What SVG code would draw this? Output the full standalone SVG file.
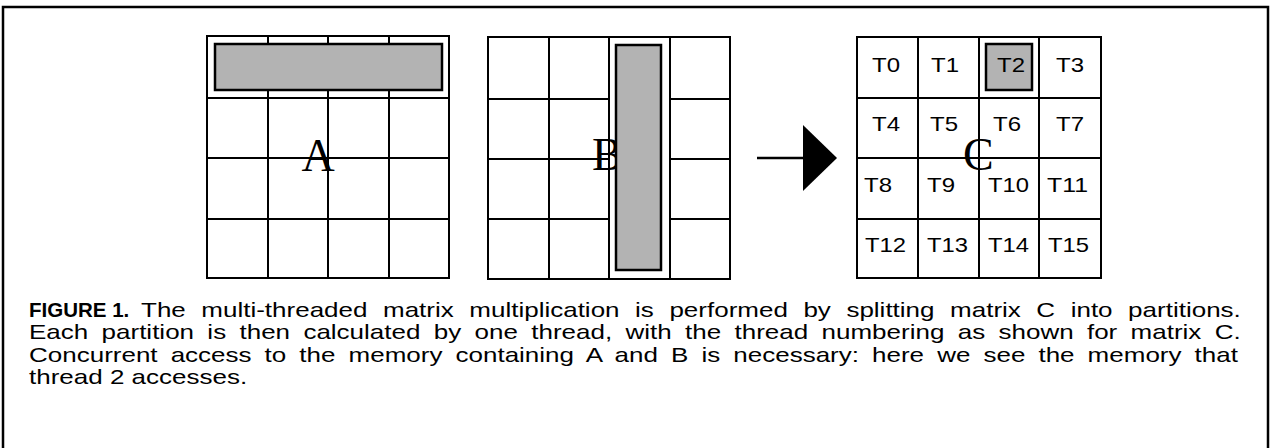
<svg xmlns="http://www.w3.org/2000/svg" width="1272" height="448" viewBox="0 0 1272 448">
<style>
.grid{fill:none;stroke:#000;stroke-width:2}
.bar{fill:#b3b3b3;stroke:#000;stroke-width:2.5}
.big{font-family:"Liberation Serif","Times New Roman",serif;font-size:46px;fill:#000}
.t{font-family:"Liberation Sans",Arial,sans-serif;font-size:21px;fill:#000}
.cap{font-family:"Liberation Sans",Arial,sans-serif;font-size:20px;fill:#000}
.b{font-weight:bold;font-size:20.5px}
</style>
<rect x="3" y="7" width="1265" height="470" fill="#fff" stroke="#000" stroke-width="2.5"/>
<g id="matrixA">
<path class="grid" d="M207 36H449V278H207Z M268 36V278 M328 36V278 M389 36V278 M207 98H449 M207 158H449 M207 219H449"/>
<text class="big" x="318" y="171" text-anchor="middle">A</text>
<rect class="bar" x="215" y="44" width="227" height="46"/>
</g>
<g id="matrixB">
<path class="grid" d="M488 37H730V279H488Z M549 37V279 M609 37V279 M670 37V279 M488 99H609 M670 99H730 M488 159H609 M670 159H730 M488 219H609 M670 219H730"/>
<text class="big" x="592" y="170">B</text>
<rect class="bar" x="616" y="45" width="45" height="225"/>
</g>
<g id="matrixC">
<path class="grid" d="M857 37H1101V278H857Z M918 37V278 M979 37V278 M1039 37V278 M857 98H1101 M857 158H1101 M857 219H1101"/>
<rect class="bar" x="986" y="44" width="46" height="46"/>
<text class="big" x="963" y="170">C</text>
<text class="t" x="872" y="72" textLength="28" lengthAdjust="spacingAndGlyphs">T0</text>
<text class="t" x="931" y="72" textLength="28" lengthAdjust="spacingAndGlyphs">T1</text>
<text class="t" x="997" y="72" textLength="28" lengthAdjust="spacingAndGlyphs">T2</text>
<text class="t" x="1056" y="72" textLength="28" lengthAdjust="spacingAndGlyphs">T3</text>
<text class="t" x="872" y="131" textLength="28" lengthAdjust="spacingAndGlyphs">T4</text>
<text class="t" x="930" y="131" textLength="28" lengthAdjust="spacingAndGlyphs">T5</text>
<text class="t" x="993" y="131" textLength="28" lengthAdjust="spacingAndGlyphs">T6</text>
<text class="t" x="1056" y="131" textLength="28" lengthAdjust="spacingAndGlyphs">T7</text>
<text class="t" x="864" y="192" textLength="28" lengthAdjust="spacingAndGlyphs">T8</text>
<text class="t" x="927" y="192" textLength="28" lengthAdjust="spacingAndGlyphs">T9</text>
<text class="t" x="988" y="192" textLength="41" lengthAdjust="spacingAndGlyphs">T10</text>
<text class="t" x="1047" y="192" textLength="41" lengthAdjust="spacingAndGlyphs">T11</text>
<text class="t" x="865" y="252" textLength="41" lengthAdjust="spacingAndGlyphs">T12</text>
<text class="t" x="927" y="252" textLength="41" lengthAdjust="spacingAndGlyphs">T13</text>
<text class="t" x="988" y="252" textLength="41" lengthAdjust="spacingAndGlyphs">T14</text>
<text class="t" x="1048" y="252" textLength="41" lengthAdjust="spacingAndGlyphs">T15</text>
</g>
<g id="connectors">
<line x1="757" y1="158" x2="805" y2="158" stroke="#000" stroke-width="2.5"/>
<polygon points="803,125 837,158 803,191" fill="#000"/>
</g>
<g id="caption">
<text class="cap b" x="29" y="317">FIGURE 1.</text>
<g transform="translate(141 0) scale(1.3 1)">
<text class="cap" x="0" y="317" word-spacing="6.4">The multi-threaded matrix multiplication is performed by splitting matrix C into partitions.</text>
</g>
<g transform="translate(29 0) scale(1.3 1)">
<text class="cap" x="0" y="339.5" word-spacing="4.7">Each partition is then calculated by one thread, with the thread numbering as shown for matrix C.</text>
<text class="cap" x="0" y="362" word-spacing="4.5">Concurrent access to the memory containing A and B is necessary: here we see the memory that</text>
<text class="cap" x="0" y="384.5">thread 2 accesses.</text>
</g>
</g>
</svg>
